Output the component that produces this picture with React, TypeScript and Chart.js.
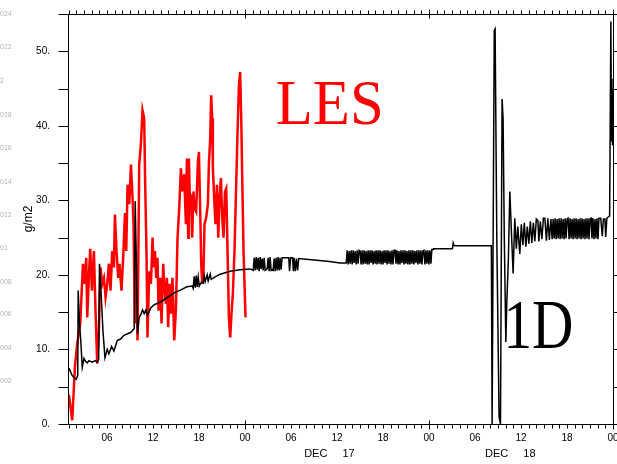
import React, { useEffect, useRef } from 'react';
import { Chart, registerables } from 'chart.js';

Chart.register(...registerables);

// ---- LES series (hours since DEC 16 00Z, g/m2)
const lesHours = [1.02,1.45,1.80,2.10,2.50,2.85,3.06,3.28,3.41,3.63,3.80,4.02,4.28,4.49,4.71,4.93,5.14,5.37,5.59,5.80,6.02,6.24,6.45,6.67,6.89,7.02,7.23,7.45,7.62,7.88,8.10,8.33,8.50,8.67,8.89,9.11,9.32,9.45,9.63,9.80,9.97,10.19,10.41,10.62,10.84,10.97,11.14,11.27,11.50,11.72,11.93,12.06,12.24,12.41,12.58,12.71,12.93,13.10,13.32,13.45,13.67,13.80,13.97,14.14,14.33,14.53,14.76,14.98,15.19,15.41,15.63,15.84,16.06,16.28,16.41,16.58,16.67,16.84,16.97,17.10,17.27,17.40,17.62,17.85,17.98,18.15,18.28,18.41,18.58,18.71,18.93,19.15,19.28,19.45,19.58,19.71,19.80,19.97,20.14,20.33,20.50,20.67,20.85,21.02,21.19,21.38,21.54,21.76,21.89,22.06,22.23,22.41,22.62,22.84,23.01,23.20,23.36,23.50,23.63,23.80,24.06];
const lesValues = [3.9,0.5,7.6,10.8,13.5,21.5,18.8,22.3,14.3,20,23.5,17.9,23.2,15.2,8.1,12.5,21,18.8,19.6,17,18.8,21.5,17.9,23.2,21,28.1,23.2,19.6,21.5,17.9,22.3,28.3,23.2,32.1,29.5,34.8,30.3,26.8,13.5,21.5,11.2,34.8,37.5,42.1,41,32.1,23.2,11.6,20.5,18.8,25,21,23.2,19.6,22.3,15.2,19.6,13.5,21.5,18.8,16.1,19.6,13,18.8,14.8,19.6,11.2,15.5,25,29,34.3,31.2,33.5,26.8,35.6,25,35.6,28.5,30.8,25,31.2,29,28.5,35.2,36.5,28.5,21.5,18.8,20.5,26.8,27.7,29.5,34.8,38.3,44.1,41,34.3,30.3,26.8,32.1,25,30.3,33,27.7,25,31.2,31.6,21,14.3,11.6,14.8,17.5,23.2,32.1,38.8,45.5,47.2,41,33,23.2,14.3];

// ---- 1D series, sparse samples
const oneDHours = [1.02,1.23,1.45,1.71,1.97,2.17,2.23,2.40,2.59,2.76,2.98,3.19,3.41,3.63,4.06,4.49,4.71,4.90,5.01,5.27,5.46,5.72,6.02,6.24,6.58,6.89,7.32,7.75,8.20,8.67,9.11,9.54,9.67,9.84,9.97,10.19,10.41,10.62,10.84,11.07,11.27,11.72,12.15,12.58,13.02,13.88,14.76,15.63,16.41,17.10,17.23,17.36,17.50,17.63,17.76,17.89,18.02,18.28,18.54,18.67,18.80,19.06,19.19,19.45,19.58,20.20,20.76,22.06,23.36,24.67,
  29.00,29.70,29.80,29.95,30.20,30.30,30.40,30.55,30.70,30.85,31.00,33.00,35.00,36.40,37.20,
  48.54,48.60,51.05,51.15,51.30,54.67,56.13,56.23,56.32,56.51,56.62,56.84,57.14,57.32,57.53,57.66,57.82,58.02,58.15,58.35,58.54,58.74,58.97,59.19,59.39,59.58,59.84,60.04,60.24,60.43,60.63,60.82,61.02,61.22,61.41,61.61,61.80,62.00,62.20,62.33,62.52,62.72,62.92,63.11,63.31,63.50,63.70,63.90,
  70.40,70.60,70.75,70.95,71.05,71.20,71.40,71.56,71.72,71.80,71.86,71.93,71.98,72.00];
const oneDValues = [7.5,7.0,6.5,6.2,6.0,6.5,17.9,13.5,10.8,7.6,8.8,8.4,8.2,8.5,8.3,8.5,8.3,8.6,21.5,16.5,12.5,8.9,10.0,9.4,10.4,9.8,11.2,11.4,11.9,12.1,12.3,12.8,29.9,20.5,12.1,14.3,14.7,15.3,14.8,15.3,14.6,15.6,16.0,16.2,16.4,17.0,17.6,18.0,18.4,18.5,18.2,19.8,18.3,19.9,18.4,19.7,18.5,19.0,18.9,19.9,19.1,20.0,19.2,20.1,19.4,19.8,20.1,20.5,20.7,20.8,
  22.3,22.3,20.5,22.3,22.3,20.5,22.3,20.5,22.2,20.6,22.2,22.0,21.8,21.6,21.6,
  23.4,23.5,23.5,24.3,23.9,23.9,23.9,0,0,52.8,53.0,25,0.9,0,43.6,41,25,11,16.5,22,31.2,26,20.2,27.6,23.5,26.5,22.8,26.8,24,27,23.8,26.5,24.2,27.2,24.3,27,24.5,27.5,27.3,24.5,27.2,24.8,27.6,27.6,24.6,27.6,24.7,27.5,
  27.6,25.2,27.5,27.5,25.1,27.6,27.8,27.9,54.0,38,46.3,37.5,45,44];

// ---- 1D series, dense oscillating stretches (regularly sampled)
const burstStep = 0.13;
const burst1Start = 25.06;
const burst1Values = [20.6,22.3,20.6,22.4,20.7,22.3,20.5,22.4,20.8,22.2,20.6,22.3,20.6,20.7,20.8,22.3,20.5,22.4,20.6,20.7,20.6,22.2,20.5,22.3,20.6,22.4,20.6,22.3,20.7,22.3];
const burst2Start = 37.32;
const burst2Values = [23.3,21.4,23.2,21.5,23.3,21.4,23.3,21.6,23.2,21.4,
  23.3,21.5,23.3,23.2,21.4,23.3,21.4,23.3,21.5,23.2,
  21.4,23.3,21.4,23.3,21.6,23.3,21.4,23.2,21.5,23.3,
  21.4,23.3,21.5,23.3,21.4,23.2,21.4,23.3,21.6,23.3,
  21.4,23.3,21.5,23.2,21.4,23.3,21.4,23.3,23.3,21.5,
  23.3,21.4,23.2,21.4,23.3,21.6,23.3,21.4,23.3,21.5,
  23.2,21.4,23.3,21.4,23.3,21.5,23.3,21.4,23.2,21.6,
  23.3,21.4,23.3,21.5,23.3,21.4,23.2,23.3,21.4,23.3,
  21.5,23.3,21.4,23.3,21.5,23.4];
const burst3Start = 64.06;
const burst3Values = [24.8,27.5,24.9,27.6,24.8,27.5,24.9,27.6,24.8,27.6,
  24.9,27.5,24.8,27.6,24.9,27.5,27.6,24.8,27.6,24.9,
  27.5,24.8,27.6,24.9,27.6,24.8,27.5,24.9,27.6,24.8,
  27.6,24.9,27.5,24.8,27.6,24.9,27.6,24.8,27.5,27.6,
  24.9,27.6,24.8,27.5,24.9,27.6,24.8,27.6];

// ---- axes / labels
const xMinHour = 0.9;
const xMaxHour = 72;
const hourTicks = Array.from({ length: 72 }, (_, i) => i + 1);
const yMin = 0;
const yMax = 55;
const yStep = 5;
const yTitle = 'g/m2';
const dayLabels = ['DEC 17', 'DEC 18'];
const dayLabelHours = [35.0, 58.6];
const edgeLabels = ['024', '022', '2', '018', '016', '014', '012', '01', '008', '006', '004', '002'];
const edgeLabelValues = [55, 50.5, 46, 41.5, 37, 32.5, 28, 23.6, 19.1, 14.7, 10.2, 5.8];
const lesText = 'LES';
const lesTextAt = { hour: 28.0, value: 40.3 };
const oneDText = '1D';
const oneDTextAt = { hour: 57.7, value: 10.2 };

function buildOneD() {
  const pts: { x: number; y: number }[] = [];
  oneDHours.forEach((h, i) => pts.push({ x: h, y: oneDValues[i] }));
  const addBurst = (start: number, vals: number[]) =>
    vals.forEach((v, i) => pts.push({ x: +(start + i * burstStep).toFixed(3), y: v }));
  addBurst(burst1Start, burst1Values);
  addBurst(burst2Start, burst2Values);
  addBurst(burst3Start, burst3Values);
  pts.sort((a, b) => a.x - b.x);
  return pts;
}

const pad2 = (n: number) => (n < 10 ? '0' + n : '' + n);
const SANS = '"Liberation Sans", Arial, sans-serif';
const SERIF = '"Liberation Serif", "Times New Roman", serif';

const decorPlugin = {
  id: 'decor',
  afterDraw(chart: any) {
    const { ctx, chartArea: a, scales } = chart;
    const xs = scales.x;
    const ys = scales.y;
    const L = Math.round(a.left) + 0.5;
    const R = Math.round(a.right) + 0.5;
    const T = Math.round(a.top) + 0.5;
    const B = Math.round(a.bottom) + 0.5;
    ctx.save();
    ctx.strokeStyle = '#000';
    ctx.lineWidth = 1;
    ctx.beginPath();
    ctx.rect(L, T, R - L, B - T);
    // x ticks (top & bottom)
    hourTicks.forEach((h) => {
      const px = Math.round(xs.getPixelForValue(h)) + 0.5;
      if (h % 24 === 0) {
        ctx.moveTo(px, B - 4); ctx.lineTo(px, B + 5);
        ctx.moveTo(px, T + 4); ctx.lineTo(px, T - 5);
      } else {
        ctx.moveTo(px, B); ctx.lineTo(px, B + 4);
        ctx.moveTo(px, T); ctx.lineTo(px, T - 4);
      }
    });
    // y ticks (left outward long, right outward short)
    for (let v = yMin; v <= yMax; v += yStep) {
      const py = Math.round(ys.getPixelForValue(v)) + 0.5;
      ctx.moveTo(L, py); ctx.lineTo(L - 10, py);
      ctx.moveTo(R, py); ctx.lineTo(R + 4, py);
    }
    ctx.stroke();

    // date labels
    ctx.fillStyle = '#000';
    ctx.font = '11px ' + SANS;
    ctx.textAlign = 'center';
    ctx.textBaseline = 'middle';
    try { (ctx as any).wordSpacing = '12px'; } catch (e) {}
    dayLabels.forEach((t, i) => {
      ctx.fillText(t, xs.getPixelForValue(dayLabelHours[i]), 454);
    });
    try { (ctx as any).wordSpacing = '0px'; } catch (e) {}

    // faint clipped labels at left edge
    ctx.fillStyle = '#b4b4b4';
    ctx.font = '7px ' + SANS;
    ctx.textAlign = 'left';
    edgeLabels.forEach((t, i) => {
      ctx.fillText(t, 0, ys.getPixelForValue(edgeLabelValues[i]));
    });

    // big annotations
    const drawBig = (text: string, at: { hour: number; value: number }, size: number, width: number, color: string) => {
      ctx.font = size + 'px ' + SERIF;
      ctx.fillStyle = color;
      ctx.textAlign = 'left';
      ctx.textBaseline = 'alphabetic';
      const w = ctx.measureText(text).width;
      ctx.save();
      ctx.translate(xs.getPixelForValue(at.hour), ys.getPixelForValue(at.value));
      ctx.scale(width / w, 1);
      ctx.fillText(text, 0, 0);
      ctx.restore();
    };
    drawBig(lesText, lesTextAt, 63, 108, '#ff0000');
    drawBig(oneDText, oneDTextAt, 69, 70, '#000000');
    ctx.restore();
  },
};

export default function App() {
  const ref = useRef<HTMLCanvasElement | null>(null);
  useEffect(() => {
    if (!ref.current) return;
    const lesPts = lesHours.map((h, i) => ({ x: h, y: lesValues[i] }));
    const oneDPts = buildOneD();
    const chart = new Chart(ref.current, {
      type: 'line',
      data: {
        datasets: [
          { label: '1D', data: oneDPts, borderColor: '#000000', borderWidth: 1.5, pointRadius: 0, tension: 0, fill: false, order: 0 },
          { label: 'LES', data: lesPts, borderColor: '#ff0000', borderWidth: 2.5, pointRadius: 0, tension: 0, fill: false, order: 1 },
        ],
      },
      options: {
        responsive: false,
        animation: false,
        devicePixelRatio: 1,
        layout: { padding: { left: 0, right: 4, top: 14, bottom: 0 } },
        plugins: { legend: { display: false }, tooltip: { enabled: false } },
        scales: {
          x: {
            type: 'linear',
            min: xMinHour,
            max: xMaxHour,
            grid: { display: false, drawTicks: false },
            border: { display: false },
            afterBuildTicks: (s: any) => { s.ticks = hourTicks.map((v) => ({ value: v })); },
            afterFit: (s: any) => { s.height = 40; s.paddingLeft = 0; s.paddingRight = 0; },
            ticks: {
              autoSkip: false,
              maxRotation: 0,
              minRotation: 0,
              padding: 8,
              color: '#000',
              font: { family: SANS, size: 10 },
              callback: (v: any) => (Number(v) % 6 === 0 ? pad2(Number(v) % 24) : ''),
            },
          },
          y: {
            type: 'linear',
            min: yMin,
            max: yMax,
            grid: { display: false, drawTicks: false },
            border: { display: false },
            afterFit: (s: any) => { s.width = 68; s.paddingTop = 0; s.paddingBottom = 0; },
            title: { display: true, text: yTitle, color: '#000', font: { family: SANS, size: 12 }, padding: { top: 21, bottom: 0 } },
            ticks: {
              stepSize: yStep,
              padding: 18,
              color: '#000',
              font: { family: SANS, size: 10 },
              callback: (v: any) => (Number(v) % 10 === 0 ? Number(v) + '.' : ''),
            },
          },
        },
      },
      plugins: [decorPlugin],
    });
    return () => chart.destroy();
  }, []);
  return (
    <div style={{ position: 'absolute', left: 0, top: 0, width: 617, height: 464, background: '#fff' }}>
      <canvas ref={ref} width={617} height={464} style={{ display: 'block' }} />
    </div>
  );
}
